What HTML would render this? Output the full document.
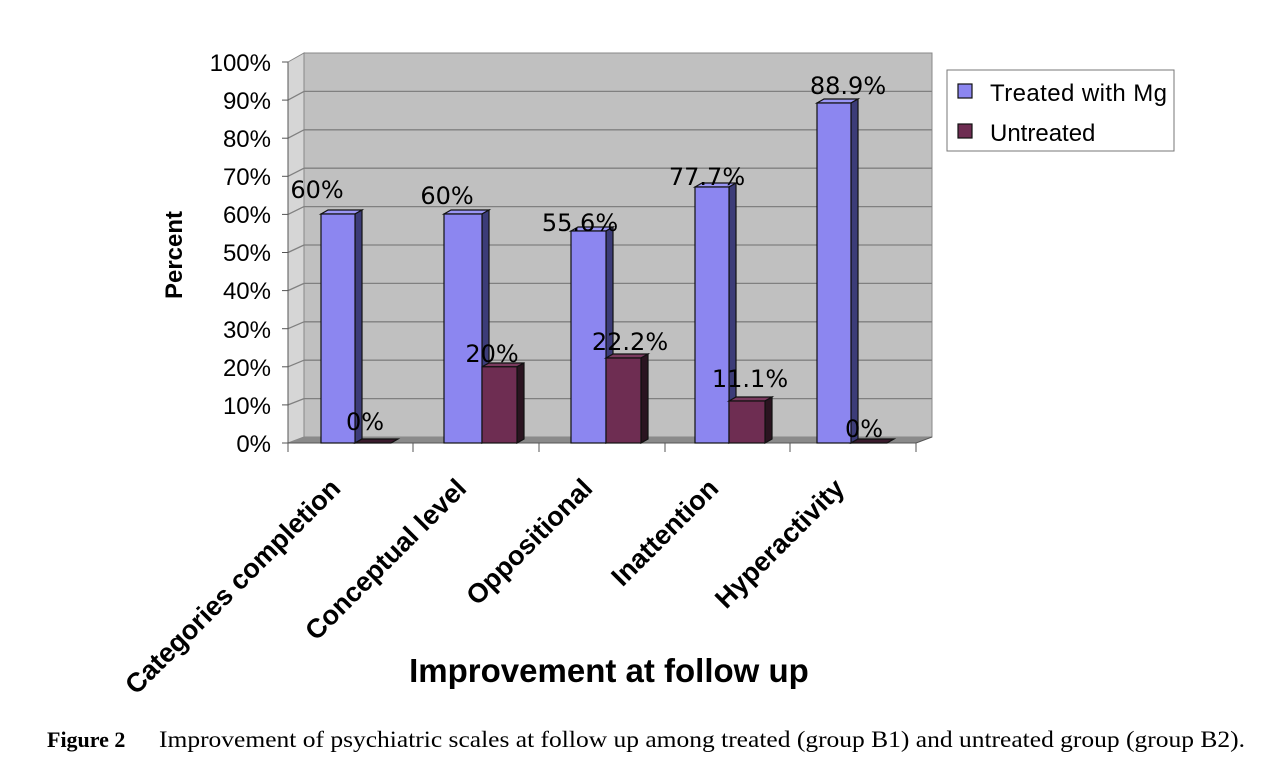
<!DOCTYPE html>
<html><head><meta charset="utf-8"><style>
html,body{margin:0;padding:0;background:#fff;}
svg{display:block;}
</style></head><body>
<svg width="1280" height="771" viewBox="0 0 1280 771" xmlns="http://www.w3.org/2000/svg" font-family="Liberation Sans, Arial, sans-serif">
<polygon points="288,62 304,53 304,437 288,443" fill="#d6d6d6" stroke="#888" stroke-width="1"/>
<rect x="304" y="53" width="628" height="384" fill="#c0c0c0" stroke="#888" stroke-width="1"/>
<polygon points="288,443 304,437 932,437 916,443" fill="#8a8a8a"/>
<g stroke="#808080" stroke-width="1.3">
<line x1="304" y1="91.4" x2="932" y2="91.4"/><line x1="304" y1="129.8" x2="932" y2="129.8"/>
<line x1="304" y1="168.2" x2="932" y2="168.2"/><line x1="304" y1="206.6" x2="932" y2="206.6"/>
<line x1="304" y1="245" x2="932" y2="245"/><line x1="304" y1="283.4" x2="932" y2="283.4"/>
<line x1="304" y1="321.8" x2="932" y2="321.8"/><line x1="304" y1="360.2" x2="932" y2="360.2"/>
<line x1="304" y1="398.6" x2="932" y2="398.6"/>
<line x1="288" y1="100.1" x2="304" y2="91.4"/><line x1="288" y1="138.2" x2="304" y2="129.8"/>
<line x1="288" y1="176.3" x2="304" y2="168.2"/><line x1="288" y1="214.4" x2="304" y2="206.6"/>
<line x1="288" y1="252.5" x2="304" y2="245"/><line x1="288" y1="290.6" x2="304" y2="283.4"/>
<line x1="288" y1="328.7" x2="304" y2="321.8"/><line x1="288" y1="366.8" x2="304" y2="360.2"/>
<line x1="288" y1="404.9" x2="304" y2="398.6"/>
</g>
<g stroke="#555" stroke-width="1">
<line x1="288" y1="62" x2="288" y2="443"/>
<line x1="288" y1="443" x2="916" y2="443"/>
<line x1="916" y1="443" x2="932" y2="437"/>
<line x1="282" y1="62" x2="288" y2="62"/><line x1="282" y1="100.1" x2="288" y2="100.1"/>
<line x1="282" y1="138.2" x2="288" y2="138.2"/><line x1="282" y1="176.3" x2="288" y2="176.3"/>
<line x1="282" y1="214.4" x2="288" y2="214.4"/><line x1="282" y1="252.5" x2="288" y2="252.5"/>
<line x1="282" y1="290.6" x2="288" y2="290.6"/><line x1="282" y1="328.7" x2="288" y2="328.7"/>
<line x1="282" y1="366.8" x2="288" y2="366.8"/><line x1="282" y1="404.9" x2="288" y2="404.9"/>
<line x1="282" y1="443" x2="288" y2="443"/>
<line x1="288" y1="443" x2="288" y2="452"/><line x1="413" y1="443" x2="413" y2="452"/>
<line x1="539" y1="443" x2="539" y2="452"/><line x1="665" y1="443" x2="665" y2="452"/>
<line x1="790" y1="443" x2="790" y2="452"/><line x1="916" y1="443" x2="916" y2="452"/>
</g>
<g font-size="24" text-anchor="end" fill="#000">
<text x="271" y="71">100%</text><text x="271" y="109">90%</text><text x="271" y="147">80%</text>
<text x="271" y="185">70%</text><text x="271" y="223">60%</text><text x="271" y="261">50%</text>
<text x="271" y="299">40%</text><text x="271" y="338">30%</text><text x="271" y="376">20%</text>
<text x="271" y="414">10%</text><text x="271" y="452">0%</text>
</g>
<g stroke="#111" stroke-width="1.2">
<polygon points="321,214 355,214 362,210 328,210" fill="#9a96f5"/><polygon points="355,214 362,210 362,439 355,443" fill="#3c3c78"/><rect x="321" y="214" width="34" height="229" fill="#8c86f0"/>
<polygon points="355,443 391,443 398,439 362,439" fill="#3a1a2c"/>
<polygon points="444,214 482,214 489,210 451,210" fill="#9a96f5"/><polygon points="482,214 489,210 489,439 482,443" fill="#3c3c78"/><rect x="444" y="214" width="38" height="229" fill="#8c86f0"/>
<polygon points="482,366.8 517,366.8 524,363 489,363" fill="#7a3a5e"/><polygon points="517,366.8 524,363 524,439 517,443" fill="#2a1420"/><rect x="482" y="366.8" width="35" height="76.2" fill="#6e2d52"/>
<polygon points="571,231 606,231 613,227 578,227" fill="#9a96f5"/><polygon points="606,231 613,227 613,439 606,443" fill="#3c3c78"/><rect x="571" y="231" width="35" height="212" fill="#8c86f0"/>
<polygon points="606,358 641,358 648,354 613,354" fill="#7a3a5e"/><polygon points="641,358 648,354 648,439 641,443" fill="#2a1420"/><rect x="606" y="358" width="35" height="85" fill="#6e2d52"/>
<polygon points="695,187 729,187 736,183 702,183" fill="#9a96f5"/><polygon points="729,187 736,183 736,439 729,443" fill="#3c3c78"/><rect x="695" y="187" width="34" height="256" fill="#8c86f0"/>
<polygon points="729,401 765,401 772,397 736,397" fill="#7a3a5e"/><polygon points="765,401 772,397 772,439 765,443" fill="#2a1420"/><rect x="729" y="401" width="36" height="42" fill="#6e2d52"/>
<polygon points="817,103 851,103 858,99 824,99" fill="#9a96f5"/><polygon points="851,103 858,99 858,439 851,443" fill="#3c3c78"/><rect x="817" y="103" width="34" height="340" fill="#8c86f0"/>
<polygon points="851,443 887,443 894,439 858,439" fill="#3a1a2c"/>
</g>
<g font-family="DejaVu Sans, sans-serif" font-size="24" text-anchor="middle" fill="#000">
<text x="317" y="198">60%</text><text x="365" y="430">0%</text>
<text x="447" y="204">60%</text><text x="492" y="362">20%</text>
<text x="580" y="231">55.6%</text><text x="630" y="350">22.2%</text>
<text x="707" y="185">77.7%</text><text x="750" y="387">11.1%</text>
<text x="848" y="94">88.9%</text><text x="864" y="437">0%</text>
</g>
<rect x="947" y="70" width="227" height="81" fill="#fff" stroke="#777" stroke-width="1"/>
<rect x="958" y="84" width="14" height="14" fill="#8c86f0" stroke="#111" stroke-width="1.2"/>
<rect x="958" y="124" width="14" height="14" fill="#6e2d52" stroke="#111" stroke-width="1.2"/>
<text x="990" y="101" font-size="24" textLength="177">Treated with Mg</text>
<text x="990" y="141" font-size="24">Untreated</text>
<text transform="translate(182,255) rotate(-90)" font-size="24" font-weight="bold" text-anchor="middle">Percent</text>
<g font-size="27" font-weight="bold" text-anchor="end">
<text transform="translate(342,490) rotate(-45)">Categories completion</text>
<text transform="translate(468,490) rotate(-45)">Conceptual level</text>
<text transform="translate(594,490) rotate(-45)">Oppositional</text>
<text transform="translate(720,490) rotate(-45)">Inattention</text>
<text transform="translate(846,490) rotate(-45)">Hyperactivity</text>
</g>
<text x="609" y="682" font-size="33" font-weight="bold" text-anchor="middle">Improvement at follow up</text>
<text x="47" y="747" font-family="Liberation Serif, serif" font-size="22" font-weight="bold">Figure 2</text>
<text x="159" y="747" font-family="Liberation Serif, serif" font-size="23" textLength="1086" lengthAdjust="spacingAndGlyphs">Improvement of psychiatric scales at follow up among treated (group B1) and untreated group (group B2).</text>
</svg>
</body></html>
